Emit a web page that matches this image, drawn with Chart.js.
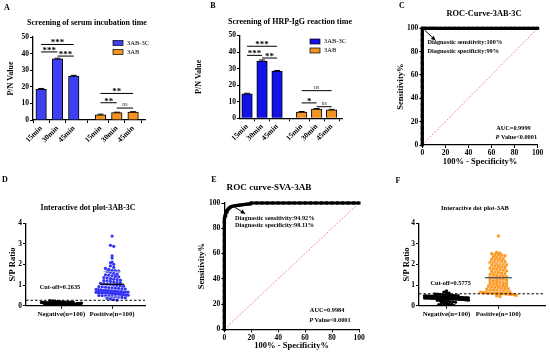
<!DOCTYPE html>
<html><head><meta charset="utf-8">
<script src="https://cdn.jsdelivr.net/npm/chart.js@4.4.0/dist/chart.umd.min.js"></script>
<style>
body{margin:0;background:#fff;}
#wrap{position:relative;width:550px;height:356px;overflow:hidden;background:#fff;font-family:"Liberation Serif","Times New Roman",serif;}
canvas{position:absolute;}
.lab{position:absolute;font-weight:bold;white-space:nowrap;color:#000;line-height:1;}
</style></head><body><div id="wrap"></div>
<script>
// ---------------- DATA ----------------
const timeLabels = ['15min', '30min', '45min'];
const seriesNames = ['3AB-3C', '3AB'];
// Panel A: serum incubation time (P/N value)
const serum3ABC = [18.5, 36.8, 26.4];
const serum3ABCsd = [0.5, 0.4, 0.5];
const serum3AB = [3.1, 4.4, 4.7];
const serum3ABsd = [0.4, 0.3, 0.3];
const serumSig = [
  {a: 0, b: 2, y: 45.5, t: '***'}, {a: 0, b: 1, y: 41.0, t: '***'}, {a: 1, b: 2, y: 38.5, t: '***'},
  {a: 3, b: 5, y: 16.0, t: '**'}, {a: 3, b: 4, y: 10.4, t: '**'}, {a: 4, b: 5, y: 7.2, t: 'ns'}
];
// Panel B: HRP-IgG reaction time
const hrp3ABC = [14.8, 34.6, 28.5];
const hrp3ABCsd = [0.3, 0.6, 0.4];
const hrp3AB = [3.8, 5.6, 5.1];
const hrp3ABsd = [0.3, 0.3, 0.3];
const hrpSig = [
  {a: 0, b: 2, y: 43.5, t: '***'}, {a: 0, b: 1, y: 38.0, t: '***'}, {a: 1, b: 2, y: 36.4, t: '**'},
  {a: 3, b: 5, y: 16.7, t: 'ns'}, {a: 3, b: 4, y: 9.3, t: '*'}, {a: 4, b: 5, y: 7.0, t: 'ns'}
];
// Panel C: ROC 3AB-3C (100% - specificity, sensitivity)
const rocC_fpr = [0, 0, 0, 0, 0, 0, 0, 0, 0, 0, 0, 0, 0, 0, 0, 0, 0, 0, 0, 0, 0, 1, 3, 6, 9, 12, 16, 20, 24, 28, 32, 36, 40, 44, 48, 52, 56, 60, 64, 68, 72, 76, 80, 84, 88, 92, 96, 100];
const rocC_tpr = [0, 5, 10, 15, 20, 25, 30, 35, 40, 45, 50, 55, 60, 65, 70, 75, 80, 85, 90, 95, 100, 100, 100, 100, 100, 100, 100, 100, 100, 100, 100, 100, 100, 100, 100, 100, 100, 100, 100, 100, 100, 100, 100, 100, 100, 100, 100, 100];
// Panel E: ROC SVA-3AB
const rocE_fpr = [0, 0, 0, 0, 0, 0, 0, 0, 0, 0, 0, 0, 0, 0, 0, 0, 0, 0, 0.3, 0.6, 1.0, 1.5, 2.0, 2.8, 3.6, 4.6, 6, 8, 10, 12, 14, 16, 18, 19.5, 20, 24, 28, 32, 36, 40, 44, 48, 52, 56, 60, 64, 68, 72, 76, 80, 84, 88, 92, 96, 100];
const rocE_tpr = [0, 5, 10, 15, 20, 25, 30, 35, 40, 45, 50, 55, 60, 65, 70, 75, 80, 85, 88, 90, 91.5, 93, 94, 95, 96, 96.8, 97.4, 97.8, 98.1, 98.4, 98.7, 99.0, 99.2, 99.4, 100, 100, 100, 100, 100, 100, 100, 100, 100, 100, 100, 100, 100, 100, 100, 100, 100, 100, 100, 100, 100];
const diagonal = [0, 100];
// Panels D/F: dot plots (S/P ratio)
const groupLabels = ['Negative(n=100)', 'Positive(n=100)'];
const dNeg = [0.25,0.24,0.22,0.21,0.20,0.19,0.18,0.18,0.17,0.17,0.16,0.16,0.16,0.15,0.15,0.15,0.14,0.14,0.14,0.14,
  0.13,0.13,0.13,0.13,0.13,0.12,0.12,0.12,0.12,0.12,0.12,0.11,0.11,0.11,0.11,0.11,0.11,0.11,0.10,0.10,
  0.10,0.10,0.10,0.10,0.10,0.10,0.10,0.09,0.09,0.09,0.09,0.09,0.09,0.09,0.09,0.08,0.08,0.08,0.08,0.08,
  0.08,0.08,0.08,0.07,0.07,0.07,0.07,0.07,0.07,0.07,0.06,0.06,0.06,0.06,0.06,0.06,0.05,0.05,0.05,0.05,
  0.05,0.04,0.04,0.04,0.04,0.03,0.03,0.03,0.02,0.02,0.09,0.10,0.11,0.12,0.08,0.07,0.10,0.09,0.11,0.13];
const dPos = [3.38,2.93,2.88,2.42,2.31,2.12,2.08,2.01,1.93,1.86,1.81,1.76,1.72,1.70,1.68,1.66,1.62,1.57,1.53,1.50,
  1.48,1.45,1.42,1.40,1.37,1.34,1.31,1.29,1.27,1.24,1.22,1.20,1.18,1.15,1.13,1.11,1.09,1.07,1.05,1.03,
  1.01,0.99,0.97,0.95,0.93,0.92,0.90,0.88,0.87,0.85,0.84,0.82,0.81,0.79,0.78,0.77,0.75,0.74,0.73,0.72,
  0.71,0.70,0.69,0.68,0.67,0.66,0.66,0.65,0.65,0.64,0.64,0.63,0.63,0.62,0.62,0.61,0.60,0.60,0.59,0.58,
  0.57,0.56,0.55,0.54,0.53,0.52,0.51,0.50,0.49,0.48,0.47,0.45,0.44,0.42,0.40,0.38,0.36,0.33,0.30,0.27];
const dCutoff = 0.2635;
const fNeg = [0.72,0.66,0.63,0.61,0.58,0.56,0.55,0.54,0.53,0.52,0.51,0.50,0.50,0.49,0.48,0.48,0.47,0.47,0.46,0.46,
  0.45,0.45,0.45,0.44,0.44,0.44,0.43,0.43,0.43,0.43,0.42,0.42,0.42,0.42,0.41,0.41,0.41,0.41,0.40,0.40,
  0.40,0.40,0.40,0.39,0.39,0.39,0.39,0.39,0.38,0.38,0.38,0.38,0.38,0.37,0.37,0.37,0.37,0.36,0.36,0.36,
  0.36,0.35,0.35,0.35,0.35,0.34,0.34,0.34,0.33,0.33,0.33,0.32,0.32,0.31,0.31,0.30,0.30,0.29,0.28,0.27,
  0.26,0.25,0.24,0.23,0.22,0.20,0.19,0.17,0.15,0.13,0.11,0.09,0.07,0.05,0.04,0.03,0.02,0.01,0.00,0.00];
const fPos = [3.38,2.58,2.55,2.52,2.50,2.47,2.45,2.42,2.38,2.35,2.32,2.28,2.25,2.22,2.20,2.17,2.14,2.11,2.08,2.05,
  2.03,2.01,1.99,1.96,1.93,1.90,1.88,1.85,1.82,1.80,1.77,1.74,1.72,1.69,1.66,1.63,1.61,1.58,1.55,1.52,
  1.50,1.47,1.44,1.42,1.40,1.37,1.35,1.32,1.30,1.28,1.25,1.22,1.20,1.17,1.15,1.12,1.10,1.08,1.05,1.03,
  1.00,0.98,0.96,0.94,0.92,0.90,0.88,0.86,0.84,0.82,0.80,0.78,0.76,0.74,0.72,0.70,0.68,0.66,0.65,0.64,
  0.63,0.63,0.62,0.62,0.61,0.61,0.60,0.60,0.60,0.59,0.59,0.58,0.58,0.57,0.56,0.55,0.53,0.51,0.48,0.45];
const fCutoff = 0.5775;

// ---------------- SETUP ----------------
const FONT = '"Liberation Serif","Times New Roman",serif';
Chart.defaults.font.family = FONT;
Chart.defaults.font.size = 8;
Chart.defaults.font.weight = 'bold';
Chart.defaults.color = '#000';
const wrap = document.getElementById('wrap');

function label(text, cx, cy, size, targetW) {
  const d = document.createElement('div');
  d.className = 'lab'; d.textContent = text; d.style.fontSize = size + 'px';
  wrap.appendChild(d);
  if (targetW) { const w = d.getBoundingClientRect().width; size = size * targetW / w; d.style.fontSize = size + 'px'; }
  const r = d.getBoundingClientRect();
  d.style.left = (cx - r.width / 2) + 'px'; d.style.top = (cy - r.height / 2) + 'px';
}

const mean = a => a.reduce((s, v) => s + v, 0) / a.length;
const sd = a => { const m = mean(a); return Math.sqrt(a.reduce((s, v) => s + (v - m) * (v - m), 0) / (a.length - 1)); };

const deco = {
  id: 'deco',
  afterDatasetsDraw(chart, args, o) {
    const ctx = chart.ctx, xs = chart.scales.x, ys = chart.scales.y, ca = chart.chartArea;
    ctx.save();
    ctx.textAlign = 'center'; ctx.textBaseline = 'alphabetic';
    (o.errs || []).forEach(e => {
      const x = xs.getPixelForValue(e.x), y1 = ys.getPixelForValue(e.v), y2 = ys.getPixelForValue(e.v + e.s);
      ctx.strokeStyle = '#000'; ctx.lineWidth = 1;
      ctx.beginPath(); ctx.moveTo(x, y1); ctx.lineTo(x, y2); ctx.moveTo(x - 3, y2); ctx.lineTo(x + 3, y2); ctx.stroke();
    });
    (o.brackets || []).forEach(b => {
      const x1 = xs.getPixelForValue(b.x1), x2 = xs.getPixelForValue(b.x2), y = ys.getPixelForValue(b.y);
      ctx.strokeStyle = '#000'; ctx.lineWidth = 1;
      ctx.beginPath(); ctx.moveTo(x1, y); ctx.lineTo(x2, y); ctx.stroke();
      if (b.t === 'ns') { ctx.font = '6px ' + FONT; ctx.fillStyle = '#444'; }
      else { ctx.font = 'bold 9px ' + FONT; ctx.fillStyle = '#000'; }
      ctx.fillText(b.t, (x1 + x2) / 2, b.t === 'ns' ? y - 2 : y + 1);
    });
    if (o.legend) {
      const L = o.legend;
      L.items.forEach((it, i) => {
        const x = ca.right - L.dx, y = ca.top + L.dy + i * L.gap;
        ctx.fillStyle = it.color; ctx.fillRect(x, y - 2.5, 10, 5);
        ctx.strokeStyle = '#000'; ctx.lineWidth = 0.7; ctx.strokeRect(x, y - 2.5, 10, 5);
        ctx.fillStyle = '#000'; ctx.font = '6.5px ' + FONT; ctx.textAlign = 'left'; ctx.textBaseline = 'middle';
        ctx.fillText(it.text, x + 14, y);
      });
      ctx.textAlign = 'center'; ctx.textBaseline = 'alphabetic';
    }
    (o.hlines || []).forEach(h => {
      const y = ys.getPixelForValue(h.y);
      const x1 = h.full ? ca.left : xs.getPixelForValue(h.x) - h.hw, x2 = h.full ? ca.right : xs.getPixelForValue(h.x) + h.hw;
      ctx.strokeStyle = h.color; ctx.lineWidth = h.w; ctx.setLineDash(h.dash || []);
      ctx.beginPath(); ctx.moveTo(x1, y); ctx.lineTo(x2, y); ctx.stroke(); ctx.setLineDash([]);
    });
    (o.arrows || []).forEach(a => {
      const x1 = xs.getPixelForValue(a.x1), y1 = ys.getPixelForValue(a.y1), x2 = xs.getPixelForValue(a.x2), y2 = ys.getPixelForValue(a.y2);
      ctx.strokeStyle = '#000'; ctx.fillStyle = '#000'; ctx.lineWidth = 1;
      ctx.beginPath(); ctx.moveTo(x1, y1); ctx.lineTo(x2, y2); ctx.stroke();
      const ang = Math.atan2(y2 - y1, x2 - x1), L = 5;
      ctx.beginPath(); ctx.moveTo(x2, y2);
      ctx.lineTo(x2 - L * Math.cos(ang - 0.45), y2 - L * Math.sin(ang - 0.45));
      ctx.lineTo(x2 - L * Math.cos(ang + 0.45), y2 - L * Math.sin(ang + 0.45));
      ctx.closePath(); ctx.fill();
    });
    (o.texts || []).forEach(t => {
      const x = xs.getPixelForValue(t.x), y = ys.getPixelForValue(t.y);
      ctx.fillStyle = '#000'; ctx.textBaseline = 'middle';
      ctx.textAlign = t.align || 'left';
      if (t.ital) {
        ctx.textAlign = 'left';
        ctx.font = 'italic bold ' + t.size + 'px ' + FONT; ctx.fillText(t.ital, x, y);
        const w = ctx.measureText(t.ital).width;
        ctx.font = 'bold ' + t.size + 'px ' + FONT; ctx.fillText(t.text, x + w, y);
      } else {
        ctx.font = 'bold ' + t.size + 'px ' + FONT; ctx.fillText(t.text, x, y);
      }
    });
    ctx.restore();
  }
};
Chart.register(deco);

function axisCommon(extra) {
  return Object.assign({
    grid: {display: true, drawOnChartArea: false, drawTicks: true, tickLength: 3, color: '#000', lineWidth: 1},
    border: {display: true, color: '#000', width: 1.3},
    ticks: {padding: 1, font: {size: 7.5, weight: 'bold'}}
  }, extra);
}

function make(box, area, yW, xH, cfg) {
  const c = document.createElement('canvas');
  c.width = box.w; c.height = box.h;
  c.style.left = box.x + 'px'; c.style.top = box.y + 'px';
  c.style.width = box.w + 'px'; c.style.height = box.h + 'px';
  wrap.appendChild(c);
  const o = cfg.options;
  o.responsive = false; o.animation = false; o.devicePixelRatio = 1;
  o.layout = {padding: {left: area.l - box.x - yW, top: area.t - box.y, right: box.x + box.w - area.r, bottom: box.y + box.h - area.b - xH}};
  o.plugins = Object.assign({legend: {display: false}, tooltip: {enabled: false}}, o.plugins || {});
  o.scales.y.afterFit = s => { s.width = yW; s.paddingTop = 0; s.paddingBottom = 0; };
  o.scales.x.afterFit = s => { s.height = xH; s.paddingLeft = 0; s.paddingRight = 0; };
  return new Chart(c, cfg);
}

// ---------------- BAR PANELS (A, B) ----------------
const ORANGE_SHIFT = 3.64; // layout gap between the two groups
function barPanel(box, area, yW, xMin, xMax, blueVals, blueSd, orVals, orSd, sig, blue) {
  const bx = blueVals.map((v, i) => i), ox = orVals.map((v, i) => i + ORANGE_SHIFT);
  const pos = bx.concat(ox);
  const labs = timeLabels.concat(timeLabels);
  const errs = blueVals.map((v, i) => ({x: bx[i], v, s: blueSd[i]})).concat(orVals.map((v, i) => ({x: ox[i], v, s: orSd[i]})));
  make(box, area, yW, 30, {
    type: 'bar',
    data: {datasets: [
      {label: seriesNames[0], data: blueVals.map((v, i) => ({x: bx[i], y: v})), backgroundColor: blue, borderColor: '#000', borderWidth: 1, barThickness: 10.5, grouped: false},
      {label: seriesNames[1], data: orVals.map((v, i) => ({x: ox[i], y: v})), backgroundColor: '#f39323', borderColor: '#000', borderWidth: 1, barThickness: 10.5, grouped: false}
    ]},
    options: {
      scales: {
        x: axisCommon({type: 'linear', min: xMin, max: xMax, offset: false,
          afterBuildTicks: s => { s.ticks = pos.map(v => ({value: v})); },
          ticks: {padding: 1, font: {size: 7.5, weight: 'bold'}, autoSkip: false, minRotation: 45, maxRotation: 45, callback: (v, i) => labs[i]}}),
        y: axisCommon({min: 0, max: 50, ticks: {stepSize: 10, padding: 1, font: {size: 7.5, weight: 'bold'}},
          title: {display: true, text: 'P/N Value', font: {size: 8, weight: 'bold'}, padding: 0}})
      },
      plugins: {deco: {
        errs,
        brackets: sig.map(s => ({x1: pos[s.a], x2: pos[s.b], y: s.y, t: s.t})),
        legend: {dx: 32, dy: 6, gap: 9, items: [{text: seriesNames[0], color: blue}, {text: seriesNames[1], color: '#f39323'}]}
      }}
    }
  });
}
barPanel({x: 0, y: 0, w: 180, h: 175}, {l: 33, r: 145, t: 37, b: 120}, 27, -0.5, 6.37,
  serum3ABC, serum3ABCsd, serum3AB, serum3ABsd, serumSig, '#3f3ff2');
barPanel({x: 180, y: 0, w: 185, h: 175}, {l: 240, r: 342, t: 35.5, b: 118.3}, 46, -0.47, 6.33,
  hrp3ABC, hrp3ABCsd, hrp3AB, hrp3ABsd, hrpSig, '#1212e6');

// ---------------- ROC PANELS (C, E) ----------------
function rocPanel(box, area, yW, fpr, tpr, texts, arrow) {
  make(box, area, yW, 24, {
    type: 'scatter',
    data: {datasets: [
      {data: fpr.map((x, i) => ({x, y: tpr[i]})), showLine: true, borderColor: '#000', borderWidth: 3.2,
        pointRadius: 2.2, pointStyle: 'rect', pointBackgroundColor: '#000', pointBorderWidth: 0, clip: false},
      {data: [{x: diagonal[0], y: diagonal[0]}, {x: diagonal[1], y: diagonal[1]}], showLine: true, borderColor: '#f07070',
        borderWidth: 0.8, borderDash: [2, 1.5], pointRadius: 0}
    ]},
    options: {
      scales: {
        x: axisCommon({min: 0, max: 100, ticks: {stepSize: 20, padding: 1, font: {size: 7.5, weight: 'bold'}},
          title: {display: true, text: '100% - Specificity%', font: {size: 8.5, weight: 'bold'}, padding: {top: 2, bottom: 2}}}),
        y: axisCommon({min: 0, max: 100, ticks: {stepSize: 20, padding: 1, font: {size: 7.5, weight: 'bold'}},
          title: {display: true, text: 'Sensitivity%', font: {size: 8.5, weight: 'bold'}, padding: 0}})
      },
      plugins: {deco: {texts, arrows: [arrow]}}
    }
  });
}
rocPanel({x: 365, y: 0, w: 185, h: 175}, {l: 422.3, r: 537.7, t: 28.3, b: 145}, 27,
  rocC_fpr, rocC_tpr,
  [{x: 4.5, y: 88, text: 'Diagnostic sensitivity:100%', size: 6.3},
   {x: 4.5, y: 80.5, text: 'Diagnostic specificity:99%', size: 6.3},
   {x: 64, y: 14.3, text: 'AUC=0.9999', size: 6.3},
   {x: 63.5, y: 6.6, ital: 'P', text: ' Value<0.0001', size: 6.3}],
  {x1: 2, y1: 98.5, x2: 11.5, y2: 89.5});
rocPanel({x: 180, y: 175, w: 185, h: 181}, {l: 224.3, r: 359, t: 203, b: 329.3}, 27.5,
  rocE_fpr, rocE_tpr,
  [{x: 8, y: 88, text: 'Diagnostic sensitivity:94.92%', size: 6.3},
   {x: 8, y: 82, text: 'Diagnostic specificity:98.11%', size: 6.3},
   {x: 63.5, y: 15.3, text: 'AUC=0.9984', size: 6.3},
   {x: 63, y: 7.4, ital: 'P', text: ' Value<0.0001', size: 6.3}],
  {x1: 8, y1: 96.5, x2: 15.5, y2: 91.5});

// ---------------- DOT PLOTS (D, F) ----------------
function swarm(vals, center, yPx, xPx, rowPx, spPx, halfW) {
  const rows = new Map();
  vals.forEach(v => { const r = Math.round(v * yPx / rowPx); if (!rows.has(r)) rows.set(r, []); rows.get(r).push(v); });
  const out = [];
  rows.forEach(list => {
    const n = list.length; let s = spPx;
    if (n > 1 && (n - 1) * s > 2 * halfW) s = 2 * halfW / (n - 1);
    list.forEach((v, i) => out.push({x: center + (i - (n - 1) / 2) * s / xPx, y: v}));
  });
  return out;
}
function dotPanel(box, area, yW, xMin, xMax, neg, pos, posColor, cutoff, cutText, negHW, posHW, meanCol, sdCol, posStyle) {
  const yPx = (area.b - area.t) / 4, xPx = (area.r - area.l) / (xMax - xMin);
  const mN = mean(neg), mP = mean(pos), sP = sd(pos);
  make(box, area, yW, 14, {
    type: 'scatter',
    data: {datasets: [
      {data: swarm(neg, 1, yPx, xPx, 2.2, 2.6, negHW), pointRadius: 1.6, pointStyle: 'circle', backgroundColor: '#000', borderWidth: 0},
      {data: swarm(pos, 2, yPx, xPx, 3, 3.3, posHW), pointRadius: posStyle === 'rect' ? 2.1 : 1.6, pointStyle: posStyle, backgroundColor: posColor, borderWidth: 0}
    ]},
    options: {
      scales: {
        x: axisCommon({min: xMin, max: xMax,
          afterBuildTicks: s => { s.ticks = [{value: 1}, {value: 2}]; },
          ticks: {padding: 1, font: {size: 6.8, weight: 'bold'}, autoSkip: false, maxRotation: 0, callback: (v, i) => groupLabels[i]}}),
        y: axisCommon({min: 0, max: 4, ticks: {stepSize: 1, padding: 1, font: {size: 7.5, weight: 'bold'}},
          title: {display: true, text: 'S/P Ratio', font: {size: 8.5, weight: 'bold'}, padding: 0}})
      },
      plugins: {deco: {
        hlines: [
          {full: true, y: cutoff, color: '#000', w: 1, dash: [2.5, 2]},
          {x: 1, y: mN, hw: negHW * 0.6, color: '#000', w: 1.3},
          {x: 2, y: mP, hw: posHW * 0.75, color: meanCol, w: 1.3},
          {x: 2, y: mP + sP, hw: posHW * 0.55, color: sdCol, w: 1},
          {x: 2, y: Math.max(mP - sP, 0), hw: posHW * 0.55, color: sdCol, w: 1}
        ],
        texts: [{x: cutText.x, y: cutText.y, text: cutText.t, size: 6.3, align: 'center'}]
      }}
    }
  });
}
dotPanel({x: 0, y: 175, w: 180, h: 181}, {l: 26, r: 145, t: 223.3, b: 305.7}, 18, 0.3, 2.65,
  dNeg, dPos, '#3434f5', dCutoff, {x: 0.97, y: 0.87, t: 'Cut-off=' + dCutoff}, 20, 16, '#000', '#9aa3c8', 'circle');
dotPanel({x: 365, y: 175, w: 185, h: 181}, {l: 419, r: 545, t: 223.3, b: 305.7}, 17.5, 0.47, 2.9,
  fNeg, fPos, '#fb9a26', fCutoff, {x: 1.08, y: 1.09, t: 'Cut-off=' + fCutoff}, 22, 18, '#555', '#f9c27a', 'rect');

// ---------------- TITLES & PANEL LETTERS ----------------
label('Screening of serum incubation time', 87, 23, 9, 120);
label('Screening of HRP-IgG reaction time', 290, 22, 9, 124);
label('ROC-Curve-3AB-3C', 484, 14, 9, 75);
label('Interactive dot plot-3AB-3C', 88, 208, 9, 95);
label('ROC curve-SVA-3AB', 269, 188, 9, 85);
label('Interactive dot plot-3AB', 475, 208, 9, 68);
label('A', 7, 8, 8); label('B', 213, 6, 8); label('C', 402, 6, 8);
label('D', 5, 180, 8); label('E', 214, 180, 8); label('F', 398, 181, 8);
</script></body></html>
